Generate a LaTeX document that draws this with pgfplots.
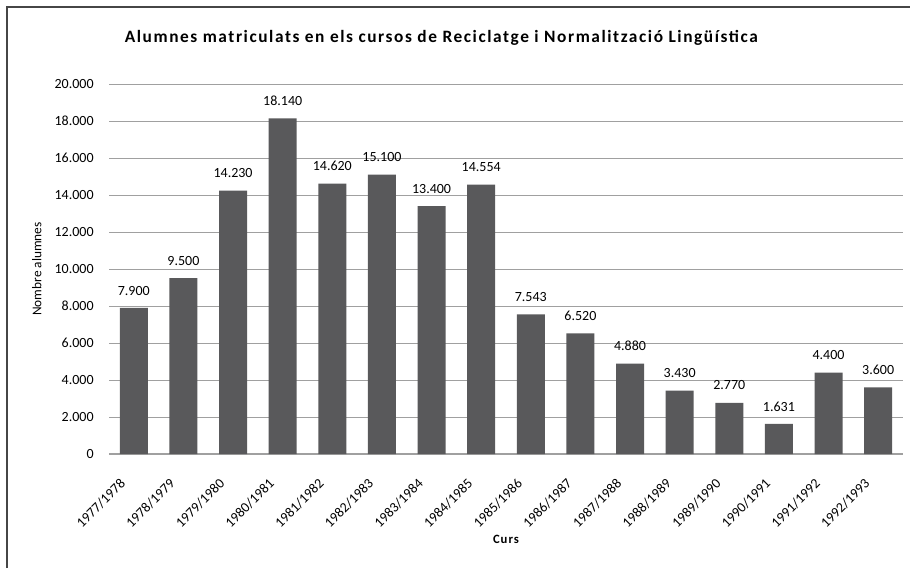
\documentclass[border=0pt]{standalone}
\usepackage{fontspec}
\setmainfont{Carlito}
\newfontfamily\titlefont[LetterSpace=9]{Carlito}
\usepackage{pgfplots}
\pgfplotsset{compat=1.18}
\definecolor{barc}{RGB}{89,89,91}
\definecolor{gridc}{RGB}{160,160,160}
\definecolor{framec}{RGB}{70,70,70}
\begin{document}
\begin{tikzpicture}
\useasboundingbox (0pt,0pt) rectangle (682.5pt,426pt);
\draw[framec,line width=1.1pt] (5.25pt,0pt) -- (5.25pt,420.75pt) -- (682.5pt,420.75pt);
\node[font=\titlefont\bfseries\fontsize{13}{15}\selectfont] at (331pt,397.5pt) {Alumnes matriculats en els cursos de Reciclatge i Normalització Lingüística};
\begin{axis}[
  at={(81.75pt,85.5pt)}, anchor=south west,
  scale only axis, width=595.5pt, height=277.5pt,
  xmin=-0.5, xmax=15.5, ymin=0, ymax=20000,
  ytick={0,2000,...,20000},
  xtick={0,...,15},
  xticklabels={1977/1978,1978/1979,1979/1980,1980/1981,1981/1982,1982/1983,1983/1984,1984/1985,1985/1986,1986/1987,1987/1988,1988/1989,1989/1990,1990/1991,1991/1992,1992/1993},
  x tick label style={xshift=-11pt, yshift=-16pt, rotate=45, anchor=north east, inner sep=1pt, font=\fontsize{10.5}{12}\selectfont},
  y tick label style={font=\fontsize{10.5}{12}\selectfont, xshift=-8pt},
  /pgf/number format/.cd, 1000 sep={.}, assume math mode=true, /pgfplots/.cd,
  scaled y ticks=false,
  axis x line*=bottom, axis y line*=left,
  y axis line style={draw=none},
  x axis line style={gridc, line width=0.8pt},
  ymajorgrids, grid style={gridc, line width=0.7pt},
  major tick length=0pt,
  ylabel={Nombre alumnes}, ylabel style={font=\fontsize{10}{12}\selectfont},
  xlabel={\addfontfeature{LetterSpace=8}Curs}, xlabel style={font=\bfseries\fontsize{9.5}{11}\selectfont, at={(axis description cs:0.5,0)}, anchor=north, yshift=-57pt},
  every axis y label/.style={at={(ticklabel cs:0.5)}, rotate=90, anchor=south},
  ylabel shift=3pt,
  clip=false,
]
\addplot[ybar, bar width=21pt, fill=barc, draw=none,
  nodes near coords, nodes near coords style={font=\fontsize{10.5}{12}\selectfont, black, yshift=6pt},
] coordinates {
(0,7900) (1,9500) (2,14230) (3,18140) (4,14620) (5,15100) (6,13400) (7,14554)
(8,7543) (9,6520) (10,4880) (11,3430) (12,2770) (13,1631) (14,4400) (15,3600)
};
\end{axis}
\end{tikzpicture}
\end{document}
